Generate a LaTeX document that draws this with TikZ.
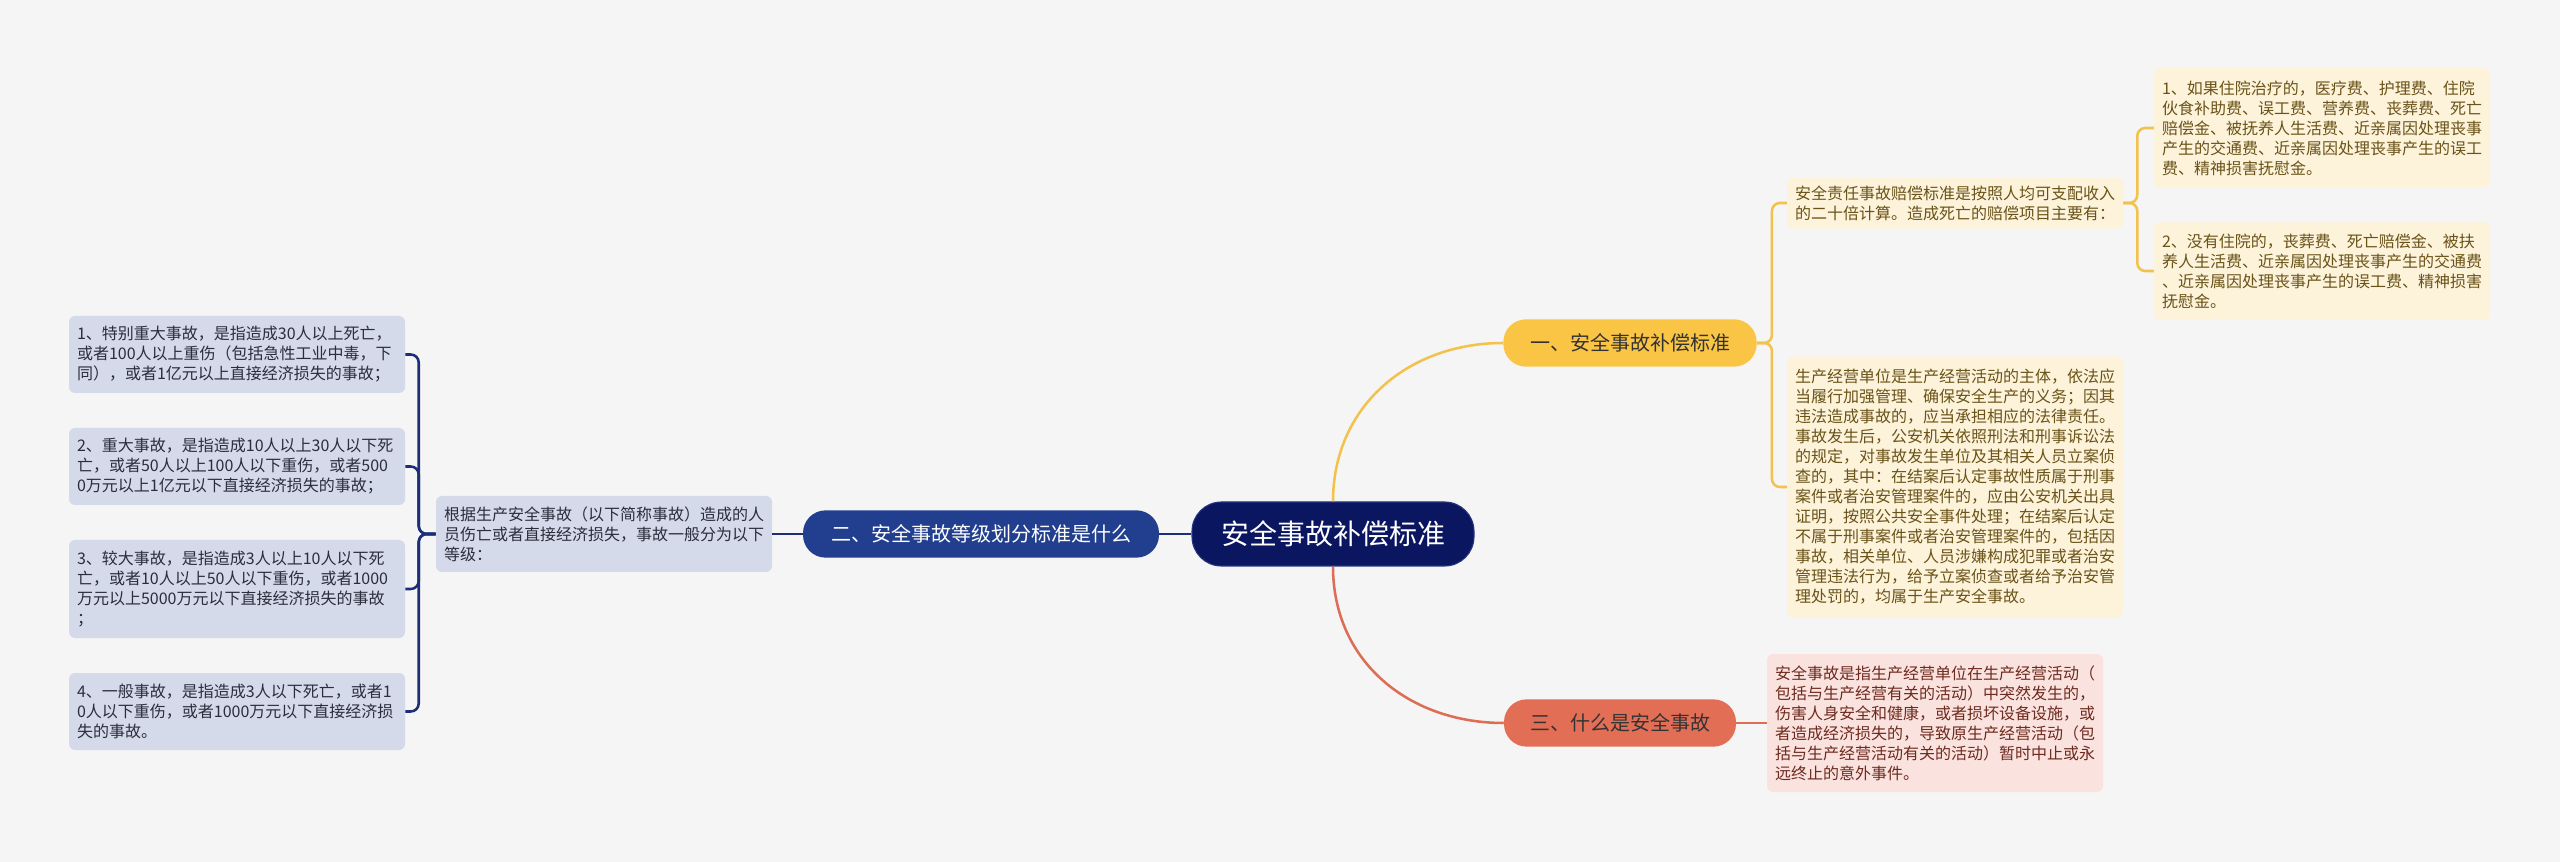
\documentclass[tikz,border=0pt]{standalone}
\usepackage{fontspec}
\setmainfont{Noto Sans CJK SC}
\usetikzlibrary{positioning}

\definecolor{bgcol}{HTML}{F5F5F5}
\definecolor{navy}{HTML}{0B1660}
\definecolor{navyedge}{HTML}{26357E}
\definecolor{bluebr}{HTML}{213F8E}
\definecolor{blueline}{HTML}{1C2E78}
\definecolor{bluefill}{HTML}{D5DAEA}
\definecolor{bluetext}{HTML}{2A2D3A}
\definecolor{yelbr}{HTML}{FAC545}
\definecolor{yelline}{HTML}{F3C24C}
\definecolor{yelfill}{HTML}{FDF3DB}
\definecolor{yeltext}{HTML}{6A5318}
\definecolor{redbr}{HTML}{E36E56}
\definecolor{redline}{HTML}{DD6D55}
\definecolor{redfill}{HTML}{FAE3DF}
\definecolor{redtext}{HTML}{6E2A1E}

\begin{document}
\begin{tikzpicture}[
    x=0.75pt, y=-0.75pt,
    topic/.style={fill=navy, draw=navyedge, line width=0.8pt, rounded corners=22pt, text=white,
        font=\fontsize{21}{25}\selectfont, minimum width=211.5pt, minimum height=48pt, inner sep=0pt},
    branch/.style={rounded corners=17pt, font=\fontsize{15}{18}\selectfont, minimum height=35.5pt, inner sep=0pt},
    leaf/.style={rounded corners=4.5pt, font=\fontsize{12}{15}\selectfont, text width=240pt, align=left,
        inner xsep=6pt, inner ysep=0pt},
    link/.style={line width=1.9pt, rounded corners=6pt}
]
\useasboundingbox (0,0) rectangle (2560,862);
\fill[bgcol] (0,0) rectangle (2560,862);

\node[topic] (root) at (1333,534) {安全事故补偿标准};

\node[branch, fill=bluebr, text=white, minimum width=267pt] (sec2) at (981,534) {二、安全事故等级划分标准是什么};
\node[leaf, fill=bluefill, text=bluetext, minimum height=57pt] (intro) at (604,534)
    {根据生产安全事故（以下简称事故）造成的人\\员伤亡或者直接经济损失，事故一般分为以下\\等级：};
\node[leaf, fill=bluefill, text=bluetext, minimum height=57.75pt] (lvA) at (237,354.5)
    {1、特别重大事故，是指造成30人以上死亡，\\或者100人以上重伤（包括急性工业中毒，下\\同），或者1亿元以上直接经济损失的事故；};
\node[leaf, fill=bluefill, text=bluetext, minimum height=57.75pt] (lvB) at (237,466.5)
    {2、重大事故，是指造成10人以上30人以下死\\亡，或者50人以上100人以下重伤，或者500\\0万元以上1亿元以下直接经济损失的事故；};
\node[leaf, fill=bluefill, text=bluetext, minimum height=73.5pt] (lvC) at (237,589)
    {3、较大事故，是指造成3人以上10人以下死\\亡，或者10人以上50人以下重伤，或者1000\\万元以上5000万元以下直接经济损失的事故\\；};
\node[leaf, fill=bluefill, text=bluetext, minimum height=57.75pt] (lvD) at (237,711.5)
    {4、一般事故，是指造成3人以下死亡，或者1\\0人以下重伤，或者1000万元以下直接经济损\\失的事故。};

\node[branch, fill=yelbr, text=black!80, minimum width=190pt] (sec1) at (1630,343) {一、安全事故补偿标准};
\node[leaf, fill=yelfill, text=yeltext, minimum height=38pt] (rule) at (1955,203)
    {安全责任事故赔偿标准是按照人均可支配收入\\的二十倍计算。造成死亡的赔偿项目主要有：};
\node[leaf, fill=yelfill, text=yeltext, minimum height=196pt] (duty) at (1955,487)
    {生产经营单位是生产经营活动的主体，依法应\\当履行加强管理、确保安全生产的义务；因其\\违法造成事故的，应当承担相应的法律责任。\\事故发生后，公安机关依照刑法和刑事诉讼法\\的规定，对事故发生单位及其相关人员立案侦\\查的，其中：在结案后认定事故性质属于刑事\\案件或者治安管理案件的，应由公安机关出具\\证明，按照公共安全事件处理；在结案后认定\\不属于刑事案件或者治安管理案件的，包括因\\事故，相关单位、人员涉嫌构成犯罪或者治安\\管理违法行为，给予立案侦查或者给予治安管\\理处罚的，均属于生产安全事故。};
\node[leaf, fill=yelfill, text=yeltext, minimum height=90pt] (itemA) at (2322,128)
    {1、如果住院治疗的，医疗费、护理费、住院\\伙食补助费、误工费、营养费、丧葬费、死亡\\赔偿金、被抚养人生活费、近亲属因处理丧事\\产生的交通费、近亲属因处理丧事产生的误工\\费、精神损害抚慰金。};
\node[leaf, fill=yelfill, text=yeltext, minimum height=73pt] (itemB) at (2322,271)
    {2、没有住院的，丧葬费、死亡赔偿金、被扶\\养人生活费、近亲属因处理丧事产生的交通费\\、近亲属因处理丧事产生的误工费、精神损害\\抚慰金。};

\node[branch, fill=redbr, text=black!80, minimum width=174pt] (sec3) at (1620,723) {三、什么是安全事故};
\node[leaf, fill=redfill, text=redtext, minimum height=103.5pt] (define) at (1935,723)
    {安全事故是指生产经营单位在生产经营活动（\\包括与生产经营有关的活动）中突然发生的，\\伤害人身安全和健康，或者损坏设备设施，或\\者造成经济损失的，导致原生产经营活动（包\\括与生产经营活动有关的活动）暂时中止或永\\远终止的意外事件。};

\draw[link, blueline] (root.west) -- (sec2.east);
\draw[link, blueline] (sec2.west) -- (intro.east);
\foreach \n in {lvA,lvB,lvC,lvD}
    \draw[link, blueline] (intro.west) -- ++(-17,0) |- (\n.east);

\draw[link, yelline] (root.north) .. controls +(0,-95) and +(-95,0) .. (sec1.west);
\foreach \n in {rule,duty}
    \draw[link, yelline] (sec1.east) -- ++(15,0) |- (\n.west);
\foreach \n in {itemA,itemB}
    \draw[link, yelline] (rule.east) -- ++(14,0) |- (\n.west);

\draw[link, redline] (root.south) .. controls +(0,95) and +(-95,0) .. (sec3.west);
\draw[link, redline] (sec3.east) -- (define.west);
\end{tikzpicture}
\end{document}
